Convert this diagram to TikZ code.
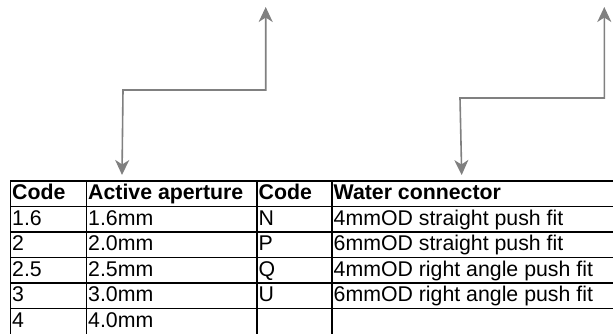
\documentclass[tikz,border=0pt]{standalone}
\usepackage{fontspec}
\setmainfont{Liberation Sans}
\usetikzlibrary{arrows.meta}
\definecolor{arrowgray}{HTML}{808080}
\tikzset{
  grid line/.style={line width=1.8pt, black},
  cell/.style={anchor=base west, inner sep=0pt, font=\fontsize{21.3}{25}\selectfont},
  head/.style={cell, font=\fontsize{21.3}{25}\selectfont\bfseries},
  pointer/.style={draw=arrowgray, line width=1.6pt,
    {Stealth[length=15pt, width=14pt, inset=4.5pt]}-{Stealth[length=15pt, width=14pt, inset=4.5pt]}},
}
\begin{document}
\begin{tikzpicture}[x=1pt, y=-1pt]
\useasboundingbox (0,0) rectangle (613,334);
\clip (0,0) rectangle (613,334);
% table grid
\foreach \yy in {181,206.5,232,257.5,283,308.5}
  \draw[grid line] (10.5,\yy) -- (620,\yy);
\foreach \xx in {10.5,86.5,257,332}
  \draw[grid line] (\xx,180.1) -- (\xx,340);
% header
\node[head] (h1) at (12,199) {Code};
\node[head] (h2) at (88,199) {Active aperture};
\node[head] (h3) at (258.5,199) {Code};
\node[head] (h4) at (333.5,199) {Water connector};
% rows
\node[cell] (a1) at (12,225) {1.6};
\node[cell] (b1) at (88,225) {1.6mm};
\node[cell] (c1) at (258.5,225) {N};
\node[cell] (d1) at (333.5,225) {4mmOD straight push fit};
\node[cell] (a2) at (12,250.5) {2};
\node[cell] (b2) at (88,250.5) {2.0mm};
\node[cell] (c2) at (258.5,250.5) {P};
\node[cell] (d2) at (333.5,250.5) {6mmOD straight push fit};
\node[cell] (a3) at (12,276) {2.5};
\node[cell] (b3) at (88,276) {2.5mm};
\node[cell] (c3) at (258.5,276) {Q};
\node[cell] (d3) at (333.5,276) {4mmOD right angle push fit};
\node[cell] (a4) at (12,301.5) {3};
\node[cell] (b4) at (88,301.5) {3.0mm};
\node[cell] (c4) at (258.5,301.5) {U};
\node[cell] (d4) at (333.5,301.5) {6mmOD right angle push fit};
\node[cell] (a5) at (12,327) {4};
\node[cell] (b5) at (88,327) {4.0mm};
% arrows
\coordinate (s1) at (122,175);
\coordinate (t1) at (265.7,7);
\coordinate (s2) at (461.7,175);
\coordinate (t2) at (604.3,7);
\draw[pointer] (s1) -- (123,90) -- (265.7,90) -- (t1);
\draw[pointer] (s2) -- (460,98) -- (604.3,98) -- (t2);
\end{tikzpicture}
\end{document}
